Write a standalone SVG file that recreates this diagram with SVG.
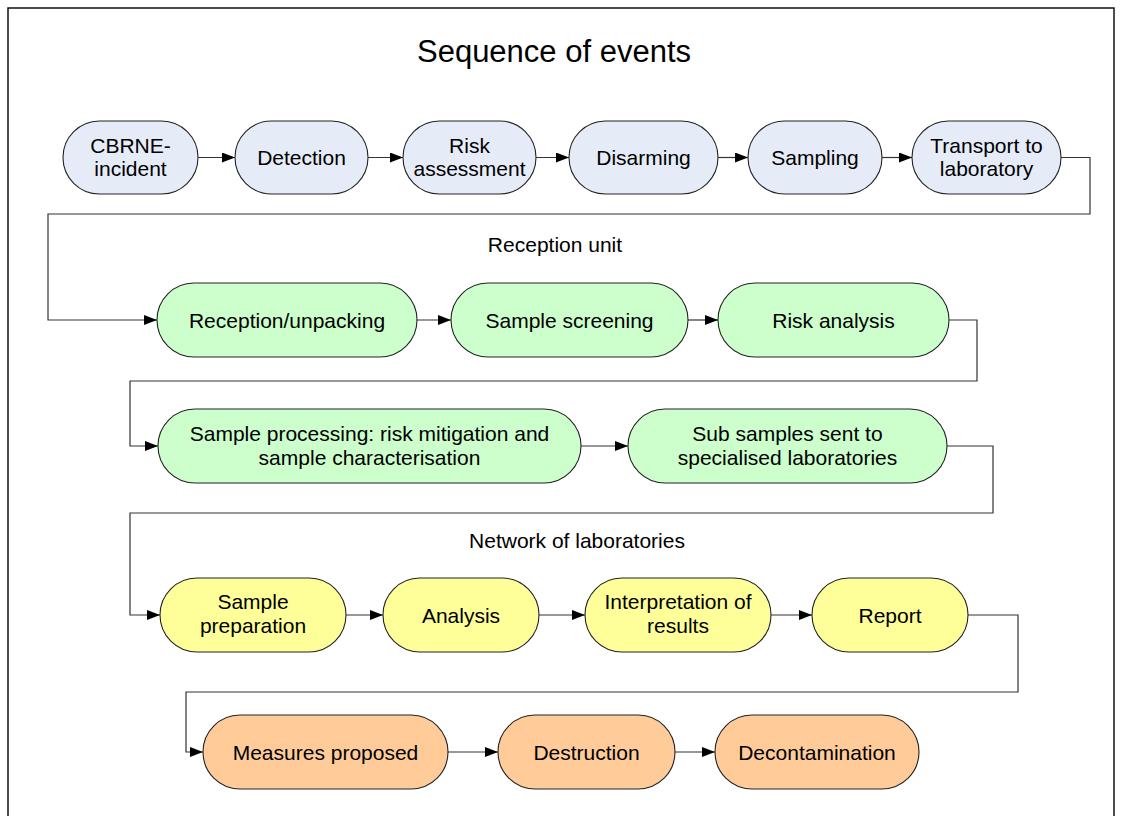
<svg xmlns="http://www.w3.org/2000/svg" width="1121" height="816" viewBox="0 0 1121 816">
<style>
text{font-family:"Liberation Sans",Arial,sans-serif;fill:#000;text-anchor:middle}
.t{font-size:21px}
.title{font-size:31px}
.n{stroke:#222;stroke-width:1.1}
.b{fill:#E6ECF7}.g{fill:#CCFFCC}.y{fill:#FFFF99}.o{fill:#FFCC99}
.c{fill:none;stroke:#333;stroke-width:1.2;marker-end:url(#ah)}
</style>
<defs>
<marker id="ah" markerWidth="14" markerHeight="10" refX="13" refY="5" orient="auto" markerUnits="userSpaceOnUse">
<path d="M0,0 L13,5 L0,10 z" fill="#000"/>
</marker>
</defs>
<rect x="8" y="8" width="1106" height="830" fill="#fff" stroke="#111" stroke-width="1.5"/>
<text class="title" x="554" y="62">Sequence of events</text>
<text class="t" x="555" y="252">Reception unit</text>
<text class="t" x="577" y="548">Network of laboratories</text>

<g id="connectors">
<path class="c" d="M198,157.5 H235"/>
<path class="c" d="M368,157.5 H403"/>
<path class="c" d="M536,157.5 H569"/>
<path class="c" d="M718,157.5 H748"/>
<path class="c" d="M882,157.5 H912"/>
<path class="c" d="M1061,157.5 H1090 V214 H48 V320 H157"/>
<path class="c" d="M417,320 H451"/>
<path class="c" d="M688,320 H718"/>
<path class="c" d="M949,320 H977 V381 H130 V446 H158"/>
<path class="c" d="M581,446 H628"/>
<path class="c" d="M947,446 H993 V513 H130 V615 H160"/>
<path class="c" d="M346,615 H383"/>
<path class="c" d="M539,615 H585"/>
<path class="c" d="M771,615 H812"/>
<path class="c" d="M968,615 H1018 V692 H186 V752 H203"/>
<path class="c" d="M448,752 H498"/>
<path class="c" d="M675,752 H715"/>
</g>

<g id="n1"><rect class="n b" x="63" y="121" width="135" height="73" rx="36.5"/><text class="t" x="130.5" y="153">CBRNE-</text><text class="t" x="130.5" y="176">incident</text></g>
<g id="n2"><rect class="n b" x="235" y="121" width="133" height="73" rx="36.5"/><text class="t" x="301.5" y="164.5">Detection</text></g>
<g id="n3"><rect class="n b" x="403" y="121" width="133" height="73" rx="36.5"/><text class="t" x="469.5" y="153">Risk</text><text class="t" x="469.5" y="176">assessment</text></g>
<g id="n4"><rect class="n b" x="569" y="121" width="149" height="73" rx="36.5"/><text class="t" x="643.5" y="164.5">Disarming</text></g>
<g id="n5"><rect class="n b" x="748" y="121" width="134" height="73" rx="36.5"/><text class="t" x="815" y="164.5">Sampling</text></g>
<g id="n6"><rect class="n b" x="912" y="121" width="149" height="73" rx="36.5"/><text class="t" x="986.5" y="153">Transport to</text><text class="t" x="986.5" y="176">laboratory</text></g>

<g id="n7"><rect class="n g" x="157" y="283" width="260" height="74" rx="37"/><text class="t" x="287" y="327.5">Reception/unpacking</text></g>
<g id="n8"><rect class="n g" x="451" y="283" width="237" height="74" rx="37"/><text class="t" x="569.5" y="327.5">Sample screening</text></g>
<g id="n9"><rect class="n g" x="718" y="283" width="231" height="74" rx="37"/><text class="t" x="833.5" y="327.5">Risk analysis</text></g>

<g id="n10"><rect class="n g" x="158" y="409" width="423" height="74" rx="37"/><text class="t" x="369.5" y="441">Sample processing: risk mitigation and</text><text class="t" x="369.5" y="465">sample characterisation</text></g>
<g id="n11"><rect class="n g" x="628" y="409" width="319" height="74" rx="37"/><text class="t" x="787.5" y="441">Sub samples sent to</text><text class="t" x="787.5" y="465">specialised laboratories</text></g>

<g id="n12"><rect class="n y" x="160" y="578" width="186" height="74" rx="37"/><text class="t" x="253" y="609">Sample</text><text class="t" x="253" y="633">preparation</text></g>
<g id="n13"><rect class="n y" x="383" y="578" width="156" height="74" rx="37"/><text class="t" x="461" y="622.5">Analysis</text></g>
<g id="n14"><rect class="n y" x="585" y="578" width="186" height="74" rx="37"/><text class="t" x="678" y="609">Interpretation of</text><text class="t" x="678" y="633">results</text></g>
<g id="n15"><rect class="n y" x="812" y="578" width="156" height="74" rx="37"/><text class="t" x="890" y="622.5">Report</text></g>

<g id="n16"><rect class="n o" x="203" y="715" width="245" height="74" rx="37"/><text class="t" x="325.5" y="759.5">Measures proposed</text></g>
<g id="n17"><rect class="n o" x="498" y="715" width="177" height="74" rx="37"/><text class="t" x="586.5" y="759.5">Destruction</text></g>
<g id="n18"><rect class="n o" x="715" y="715" width="204" height="74" rx="37"/><text class="t" x="817" y="759.5">Decontamination</text></g>
</svg>
